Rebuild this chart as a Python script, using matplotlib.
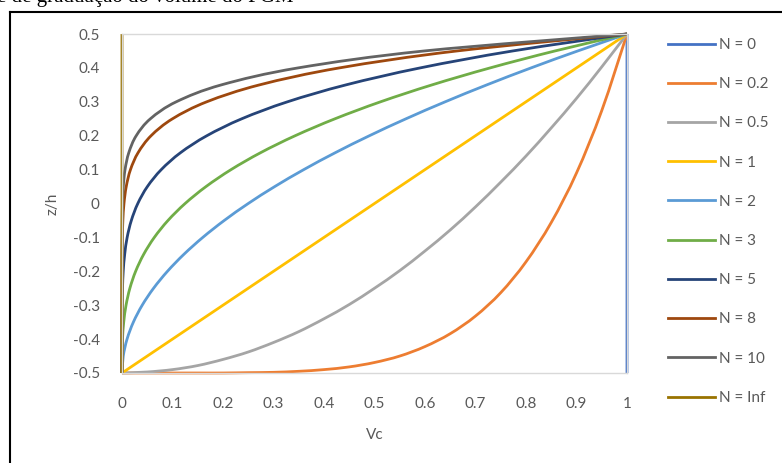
import matplotlib.pyplot as plt
from matplotlib.lines import Line2D
from matplotlib.path import Path
from matplotlib.patches import PathPatch

# z/h grid used for the N >= 1 profiles (and the two limit cases)
z_grid = [-0.5, -0.45, -0.4, -0.35, -0.3, -0.25, -0.2, -0.15, -0.1, -0.05, 0.0,
          0.05, 0.1, 0.15, 0.2, 0.25, 0.3, 0.35, 0.4, 0.45, 0.5]

vc_n0 = [1.0] * 21
vc_n1 = [0.0, 0.05, 0.1, 0.15, 0.2, 0.25, 0.3, 0.35, 0.4, 0.45, 0.5,
         0.55, 0.6, 0.65, 0.7, 0.75, 0.8, 0.85, 0.9, 0.95, 1.0]
vc_n2 = [0.0, 0.0025, 0.01, 0.0225, 0.04, 0.0625, 0.09, 0.1225, 0.16, 0.2025, 0.25,
         0.3025, 0.36, 0.4225, 0.49, 0.5625, 0.64, 0.7225, 0.81, 0.9025, 1.0]
vc_n3 = [0.0, 0.0001, 0.001, 0.0034, 0.008, 0.0156, 0.027, 0.0429, 0.064, 0.0911, 0.125,
         0.1664, 0.216, 0.2746, 0.343, 0.4219, 0.512, 0.6141, 0.729, 0.8574, 1.0]
vc_n5 = [0.0, 0.0, 0.0, 0.0001, 0.0003, 0.001, 0.0024, 0.0053, 0.0102, 0.0185, 0.0313,
         0.0503, 0.0778, 0.116, 0.1681, 0.2373, 0.3277, 0.4437, 0.5905, 0.7738, 1.0]
vc_n8 = [0.0, 0.0, 0.0, 0.0, 0.0, 0.0, 0.0001, 0.0002, 0.0007, 0.0017, 0.0039,
         0.0084, 0.0168, 0.0319, 0.0576, 0.1001, 0.1678, 0.2725, 0.4305, 0.6634, 1.0]
vc_n10 = [0.0, 0.0, 0.0, 0.0, 0.0, 0.0, 0.0, 0.0, 0.0001, 0.0003, 0.001,
          0.0025, 0.006, 0.0135, 0.0282, 0.0563, 0.1074, 0.1969, 0.3487, 0.5987, 1.0]
vc_inf = [0.0] * 21

# Vc grid used for the N < 1 profiles
vc_grid = [0.0, 0.05, 0.1, 0.15, 0.2, 0.25, 0.3, 0.35, 0.4, 0.45, 0.5,
           0.55, 0.6, 0.65, 0.7, 0.75, 0.8, 0.85, 0.9, 0.95, 1.0]
z_n02 = [-0.5, -0.5, -0.5, -0.5, -0.5, -0.499, -0.498, -0.495, -0.49, -0.482, -0.469,
         -0.45, -0.422, -0.384, -0.332, -0.263, -0.172, -0.056, 0.09, 0.274, 0.5]
z_n05 = [-0.5, -0.497, -0.49, -0.478, -0.46, -0.438, -0.41, -0.378, -0.34, -0.298, -0.25,
         -0.198, -0.14, -0.078, -0.01, 0.063, 0.14, 0.223, 0.31, 0.403, 0.5]

labels = ['N = 0', 'N = 0.2', 'N = 0.5', 'N = 1', 'N = 2',
          'N = 3', 'N = 5', 'N = 8', 'N = 10', 'N = Inf']
colors = ['#4472C4', '#ED7D31', '#A5A5A5', '#FFC000', '#5B9BD5',
          '#70AD47', '#264478', '#9E480E', '#636363', '#997300']

series = [(vc_n0, z_grid), (vc_grid, z_n02), (vc_grid, z_n05), (vc_n1, z_grid),
          (vc_n2, z_grid), (vc_n3, z_grid), (vc_n5, z_grid), (vc_n8, z_grid),
          (vc_n10, z_grid), (vc_inf, z_grid)]


def smooth_path(xs, ys):
    # spreadsheet-style smoothed line: cubic Bezier through every point
    pts = list(zip(xs, ys))
    n = len(pts)
    verts = [pts[0]]
    codes = [Path.MOVETO]
    for i in range(n - 1):
        p0 = pts[max(i - 1, 0)]
        p1 = pts[i]
        p2 = pts[i + 1]
        p3 = pts[min(i + 2, n - 1)]
        c1 = (p1[0] + (p2[0] - p0[0]) / 6, p1[1] + (p2[1] - p0[1]) / 6)
        c2 = (p2[0] - (p3[0] - p1[0]) / 6, p2[1] - (p3[1] - p1[1]) / 6)
        verts += [c1, c2, p2]
        codes += [Path.CURVE4] * 3
    return Path(verts, codes)


plt.rcParams['font.family'] = ['Lato', 'DejaVu Sans']
txt = '#595959'

fig = plt.figure(figsize=(7.82, 4.63), dpi=100)
ax = fig.add_axes([122 / 782, 1 - 373 / 463, 505 / 782, 339 / 463])

handles = []
for (x, y), lab, c in zip(series, labels, colors):
    ax.add_patch(PathPatch(smooth_path(x, y), fill=False, edgecolor=c, lw=2,
                           capstyle='butt', clip_on=False))
    handles.append(Line2D([], [], color=c, lw=2, label=lab))

ax.set_xlim(0, 1)
ax.set_ylim(-0.5, 0.5)
ax.set_xticks([0, 0.1, 0.2, 0.3, 0.4, 0.5, 0.6, 0.7, 0.8, 0.9, 1])
ax.set_xticklabels(['0', '0.1', '0.2', '0.3', '0.4', '0.5', '0.6', '0.7', '0.8', '0.9', '1'])
ax.set_yticks([-0.5, -0.4, -0.3, -0.2, -0.1, 0, 0.1, 0.2, 0.3, 0.4, 0.5])
ax.set_yticklabels(['-0.5', '-0.4', '-0.3', '-0.2', '-0.1', '0', '0.1', '0.2', '0.3', '0.4', '0.5'])
ax.tick_params(length=0, labelsize=11, labelcolor=txt)
ax.tick_params(axis='x', pad=17)
ax.tick_params(axis='y', pad=16)
for s in ax.spines.values():
    s.set_color('#D9D9D9')
    s.set_linewidth(1)

ax.set_xlabel('Vc', fontsize=11, color=txt, va='center')
ax.set_ylabel('z/h', fontsize=11, color=txt, va='center')
ax.xaxis.set_label_coords(0.5, -0.183)
ax.yaxis.set_label_coords(-0.137, 0.5)

fig.legend(handles=handles, loc='upper left', bbox_to_anchor=(668 / 782, 1 - 38 / 463),
           frameon=False, fontsize=11, labelcolor=txt, handlelength=3.1,
           handletextpad=0.25, labelspacing=1.65, borderpad=0, borderaxespad=0)

# outer frame and the caption line running off the top edge
fig.add_artist(Line2D([10 / 782, 10 / 782], [0, 1 - 12 / 463], color='black', lw=1.5))
fig.add_artist(Line2D([10 / 782, 1], [1 - 12 / 463, 1 - 12 / 463], color='black', lw=1.5))
fig.text(-0.004, 1 - 2 / 463, 'e de graduação do volume do FGM', fontsize=15,
         family='Liberation Serif', va='baseline', ha='left')

fig.savefig('out.png', dpi=100, facecolor='white')
